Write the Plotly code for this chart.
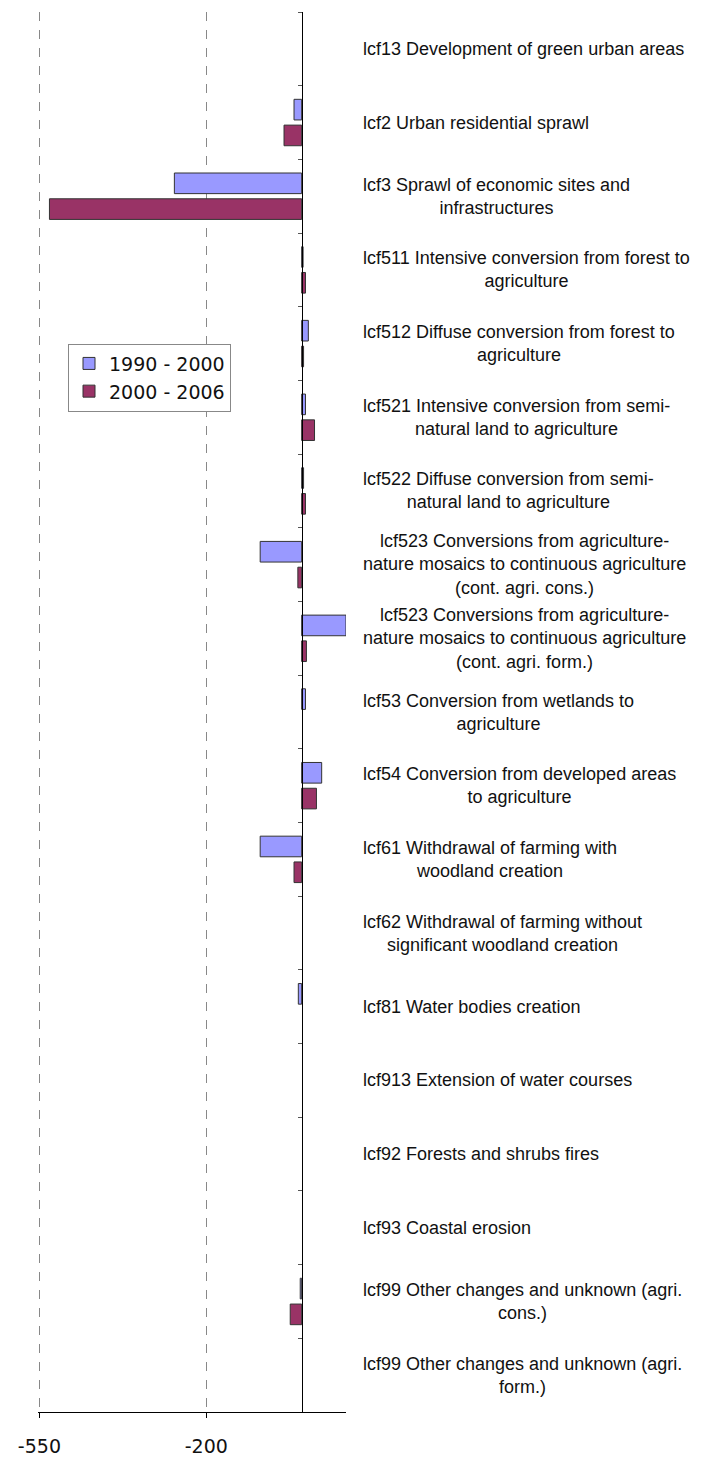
import plotly.graph_objects as go

# ---------------------------------------------------------------------------
# Data (None = no bar)
# ---------------------------------------------------------------------------
CATEGORIES = [
    "lcf13 Development of green urban areas",
    "lcf2 Urban residential sprawl",
    "lcf3 Sprawl of economic sites and<br>infrastructures",
    "lcf511 Intensive conversion from forest to<br>agriculture",
    "lcf512 Diffuse conversion from forest to<br>agriculture",
    "lcf521 Intensive conversion from semi-<br>natural land to agriculture",
    "lcf522 Diffuse conversion from semi-<br>natural land to agriculture",
    "lcf523 Conversions from agriculture-<br>nature mosaics to continuous agriculture<br>(cont. agri. cons.)",
    "lcf523 Conversions from agriculture-<br>nature mosaics to continuous agriculture<br>(cont. agri. form.)",
    "lcf53 Conversion from wetlands to<br>agriculture",
    "lcf54 Conversion from developed areas<br>to agriculture",
    "lcf61 Withdrawal of farming with<br>woodland creation",
    "lcf62 Withdrawal of farming without<br>significant woodland creation",
    "lcf81 Water bodies creation",
    "lcf913 Extension of water courses",
    "lcf92 Forests and shrubs fires",
    "lcf93 Coastal erosion",
    "lcf99 Other changes and unknown (agri.<br>cons.)",
    "lcf99 Other changes and unknown (agri.<br>form.)",
]

VALUES_1990_2000 = [None, -16, -267, 3, 14, 8, 4, -87, 93, 8, 42, -87, None, -7, None, None, None, -3, None]
VALUES_2000_2006 = [None, -37, -529, 8, 4, 27, 8, -8, 10, None, 31, -16, None, None, None, None, None, -24, None]

SERIES_NAMES = ["1990 - 2000", "2000 - 2006"]
TICK_VALS = [-550, -200]
TICK_TEXT = ["-550", "-200"]

COLOR_A = "#9999FF"
COLOR_B = "#993366"
EDGE = "#333333"

# page body has an 8px default margin, so the figure is 8px smaller
W, H = 700, 1453
ML, MR, MT, MB = 30, 362, 4, 43
PLOT_W = W - ML - MR
PLOT_H = H - MT - MB
FONT = "Liberation Sans, Arial, sans-serif"
WIDE_FONT = "DejaVu Sans, Verdana, sans-serif"

fig = go.Figure()
for name, vals, col in [(SERIES_NAMES[0], VALUES_1990_2000, COLOR_A),
                        (SERIES_NAMES[1], VALUES_2000_2006, COLOR_B)]:
    fig.add_trace(go.Bar(
        y=CATEGORIES, x=vals, name=name, orientation="h",
        marker=dict(color=col, line=dict(color=EDGE, width=1)),
    ))

# category labels to the right of the plot area
for cat in CATEGORIES:
    fig.add_annotation(
        x=(353 - ML) / PLOT_W, xref="paper", xanchor="left",
        y=cat, yref="y", yanchor="middle",
        text=cat, showarrow=False, align="center",
        font=dict(family=FONT, size=18, color="#111111"),
    )

fig.update_layout(
    width=W, height=H,
    margin=dict(l=ML, r=MR, t=MT, b=MB),
    paper_bgcolor="white", plot_bgcolor="white",
    barmode="group", bargap=0.3, bargroupgap=0.2,
    showlegend=True,
    legend=dict(
        x=(60 - ML) / PLOT_W, xanchor="left",
        y=(H - MB - 337) / PLOT_H, yanchor="top",
        bordercolor="#888888", borderwidth=1, bgcolor="white",
        font=dict(family=WIDE_FONT, size=19, color="#111111"),
    ),
    xaxis=dict(
        range=[-553, 93],
        tickvals=TICK_VALS, ticktext=TICK_TEXT,
        showgrid=True, gridcolor="#888888", griddash="dash", gridwidth=1,
        zeroline=False,
        showline=True, linecolor="black", linewidth=1,
        ticks="outside", ticklen=5, tickcolor="black",
        ticklabelstandoff=12,
        tickfont=dict(family=WIDE_FONT, size=19, color="#111111"),
    ),
    yaxis=dict(
        autorange="reversed",
        type="category",
        showticklabels=False,
        showgrid=False, zeroline=False,
        showline=True, linecolor="black", linewidth=1,
        anchor="free", position=(294 - ML) / PLOT_W,
        ticks="outside", tickson="boundaries", ticklen=4, tickcolor="#555555",
    ),
)

fig.write_html("out.html")
